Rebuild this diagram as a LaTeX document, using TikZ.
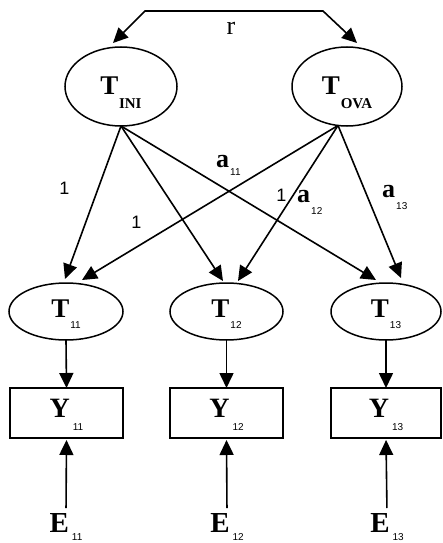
\documentclass[tikz,border=0pt]{standalone}
\usepackage{fontspec}
\setmainfont{Liberation Serif}
\setsansfont{Liberation Sans}
\usetikzlibrary{arrows.meta,shapes.geometric}
% bold serif main letter, optional size
\newcommand\mainlet[2][27]{{\fontsize{#1}{#1}\selectfont\bfseries #2}}
% lowered subscripts: #1 drop, #2 text
\newcommand\subsf[2]{\raisebox{-#1}{\sffamily\fontsize{10}{10}\selectfont #2}}
\newcommand\subrm[2]{\raisebox{-#1}{\fontsize{15}{15}\selectfont\bfseries #2}}
\tikzset{
  bigtri/.tip={Triangle[length=15pt,width=14pt]},
  link/.style={line width=1.6pt,-bigtri},
  latent/.style={ellipse,draw,line width=1.5pt,inner sep=0pt,outer sep=0pt},
  observed/.style={rectangle,draw,line width=1.5pt,inner sep=0pt,outer sep=0pt,
    minimum height=50pt,text height=8pt,text depth=0pt},
  onelab/.style={anchor=base,inner sep=0pt,font=\sffamily\fontsize{18}{18}\selectfont},
  coef/.style={anchor=base west,inner sep=0pt},
}
\begin{document}
\begin{tikzpicture}[x=1pt,y=-1pt]
\useasboundingbox (0,0) rectangle (442,543);

% trait factors
\node[latent,minimum width=112pt,minimum height=79pt,text height=15pt,text depth=0pt]
  (tini) at (121,86.5) {\mainlet{T}\kern0.5pt\subrm{14pt}{INI}};
\node[latent,minimum width=110pt,minimum height=79pt,text height=15pt,text depth=0pt]
  (tova) at (347,86.5) {\mainlet{T}\kern1pt\subrm{14pt}{OVA}};

% true scores
\node[latent,minimum width=114pt,minimum height=57pt,text height=11pt,text depth=0pt]
  (t11) at (66,311.5) {\mainlet{T}\kern1pt\subsf{11pt}{11}};
\node[latent,minimum width=113pt,minimum height=57pt,text height=11pt,text depth=0pt]
  (t12) at (226.5,311.5) {\mainlet{T}\kern1pt\subsf{11pt}{12}};
\node[latent,minimum width=110pt,minimum height=57pt,text height=11pt,text depth=0pt]
  (t13) at (386,311.5) {\mainlet{T}\kern1pt\subsf{11pt}{13}};

% observed scores
\node[observed,minimum width=113pt] (y11) at (66.5,413) {\mainlet[28]{Y}\kern3pt\subsf{13pt}{11}};
\node[observed,minimum width=113pt] (y12) at (226.5,413) {\mainlet[28]{Y}\kern3pt\subsf{13pt}{12}};
\node[observed,minimum width=110pt] (y13) at (386,413) {\mainlet[28]{Y}\kern3pt\subsf{13pt}{13}};

% errors
\node[anchor=north,inner sep=0pt] (e11) at (66,513) {\mainlet[29]{E}\kern3pt\subsf{8.5pt}{11}};
\node[anchor=north,inner sep=0pt] (e12) at (227,513) {\mainlet[29]{E}\kern3pt\subsf{8.5pt}{12}};
\node[anchor=north,inner sep=0pt] (e13) at (387,513) {\mainlet[29]{E}\kern3pt\subsf{8.5pt}{13}};

% correlation between trait factors
\coordinate (cl) at (145,11);
\coordinate (cr) at (323,11);
\draw[line width=1.6pt,bigtri-bigtri] ([shift={(-8pt,4pt)}]tini.north) -- (cl) -- (cr)
  -- ([shift={(10pt,4pt)}]tova.north);
\node[anchor=base,inner sep=0pt] (r) at (231,35) {\fontsize{26}{26}\selectfont r};

% loadings
\draw[link] (tini.south) -- ([shift={(-1pt,4pt)}]t11.north);
\draw[link] (tini.south) -- ([shift={(-3.5pt,2pt)}]t12.north);
\draw[link] (tini.south) -- ([shift={(-10pt,3pt)}]t13.north);
\draw[link] (tova.257) -- ([shift={(16pt,3pt)}]t11.north);
\draw[link] (tova.257) -- ([shift={(11.5pt,2pt)}]t12.north);
\draw[link] (tova.257) -- ([shift={(15pt,5pt)}]t13.north);

\node[onelab] (l1) at (64.5,194) {1};
\node[onelab] (l2) at (136.5,228) {1};
\node[onelab] (l3) at (281.5,201) {1};
\node[coef] (a11) at (216,167) {\mainlet[26]{a}\kern1pt\subsf{8pt}{11}};
\node[coef] (a12) at (297,202) {\mainlet[26]{a}\kern1pt\subsf{12pt}{12}};
\node[coef] (a13) at (382,197) {\mainlet[26]{a}\kern1pt\subsf{12pt}{13}};

% measurement paths
\draw[link] (t11.south) -- (y11.north);
\draw[link] (t12.south) -- (y12.north);
\draw[link] (t13.south) -- (y13.north);
\draw[link,shorten <=5pt,shorten >=2pt] (e11.north) -- (y11.south);
\draw[link,shorten <=5pt,shorten >=2pt] (e12.north) -- (y12.south);
\draw[link,shorten <=5pt,shorten >=2pt] (e13.north) -- (y13.south);
\end{tikzpicture}
\end{document}
